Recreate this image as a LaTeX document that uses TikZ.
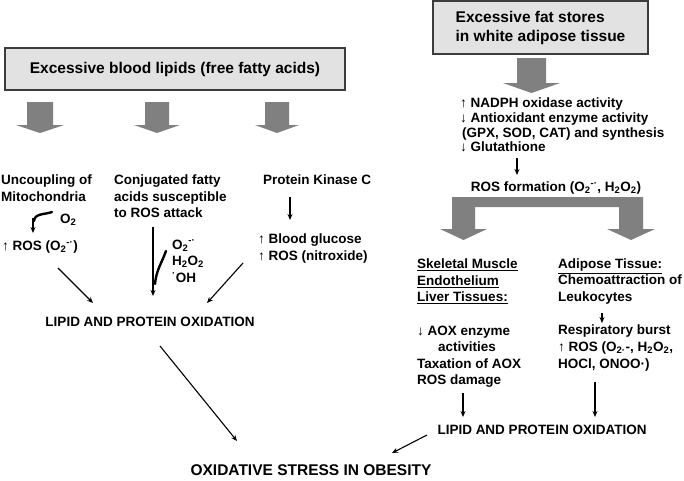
\documentclass[tikz,border=0pt]{standalone}
\usepackage{fontspec}
\setmainfont{Liberation Sans}
\usetikzlibrary{arrows.meta}

\definecolor{boxgray}{RGB}{226,226,226}
\definecolor{edgegray}{RGB}{60,60,60}
\definecolor{arrgray}{RGB}{128,128,128}
\newcommand{\uparr}{{\mdseries ↑}}
\newcommand{\dnarr}{{\mdseries ↓}}

\begin{document}
\begin{tikzpicture}[
  x=1pt, y=-1pt,
  every node/.style={font=\bfseries\fontsize{13.5}{16.5}\selectfont, inner sep=0pt},
  big/.style={font=\bfseries\fontsize{15.5}{19}\selectfont},
  src/.style={big, draw=edgegray, line width=1.3pt, fill=boxgray},
  txt/.style={anchor=west, align=left},
  arr/.style={line width=1.1pt, -{Stealth[length=6pt,width=5pt]}},
  feather/.style={line width=2.4pt, line cap=round},
  blockarr/.style={fill=arrgray},
]
\fill[white] (0,0) rectangle (684,480);
\useasboundingbox (0,0) rectangle (684,480);
% source boxes
\node[src, minimum width=340pt, minimum height=42pt] (blood) at (175,69) {Excessive blood lipids (free fatty acids)};
\node[src, minimum width=215pt, minimum height=53pt, align=left] (fat) at (540.5,27.5) {Excessive fat stores\\in white adipose tissue};
% block arrows
\foreach \x/\s/\h in {40/13/24, 157/12/23, 277/12/22} {
  \fill[blockarr] (\x-\s,102) -- (\x+\s,102) -- (\x+\s,125) -- (\x+\h,125) -- (\x,133)
    -- (\x-\h,125) -- (\x-\s,125) -- cycle;
}
\fill[blockarr] (517,58) -- (546,58) -- (546,83) -- (560,83) -- (531.5,93) -- (503,83) -- (517,83) -- cycle;
\fill[blockarr] (440,229) -- (463.5,240) -- (487,229) -- (475,229) -- (475,207) -- (619,207)
  -- (619,229) -- (607,229) -- (631,240) -- (655,229) -- (643,229) -- (643,197) -- (452,197)
  -- (452,229) -- cycle;
% left branch: blood lipids
\node[txt] (mito) at (1,188) {Uncoupling of\\Mitochondria};
\node[txt] (o2m) at (60,220) {O\textsubscript{2}};
\node[txt] (rosm) at (2,247) {\uparr\ ROS (O\textsubscript{2}\textsuperscript{-·})};
\node[txt] (conj) at (114,196.5) {Conjugated fatty\\acids susceptible\\to ROS attack};
\node[txt] (rad) at (172,261) {O\textsubscript{2}\textsuperscript{-·}\\H\textsubscript{2}O\textsubscript{2}\\\textsuperscript{·}OH};
\node[txt] (pkc) at (263,180) {Protein Kinase C};
\node[txt] (glu) at (258,248.5) {\uparr\ Blood glucose\\\uparr\ ROS (nitroxide)};
\node (lpoL) at (150,322) {LIPID AND PROTEIN OXIDATION};
\node[big] (ox) at (311,470) {OXIDATIVE STRESS IN OBESITY};
% right branch: adipose tissue
\node[txt, font=\bfseries\fontsize{13.5}{14.7}\selectfont] (nadph) at (460,125)
  {\uparr\ NADPH oxidase activity\\\dnarr\ Antioxidant enzyme activity\\\hspace{2pt}(GPX, SOD, CAT) and synthesis\\\dnarr\ Glutathione};
\node (rosf) at (556,188) {ROS formation (O\textsubscript{2}\textsuperscript{-·}, H\textsubscript{2}O\textsubscript{2})};
\node[txt] (skel) at (417,281.5) {\underline{Skeletal Muscle}\\\underline{Endothelium}\\\underline{Liver Tissues:}};
\node[txt] (aox) at (417,356.5) {\dnarr\ AOX enzyme\\\hspace{21pt}activities\\Taxation of AOX\\ROS damage};
\node[txt] (adip) at (558,281.5) {\underline{Adipose Tissue:}\\Chemoattraction of\\Leukocytes};
\node[txt] (burst) at (558,348) {Respiratory burst\\\uparr\ ROS (O\textsubscript{2·}-, H\textsubscript{2}O\textsubscript{2},\\HOCl, ONOO·)};
\node (lpoR) at (542,430) {LIPID AND PROTEIN OXIDATION};
% connectors
\draw[arr] ([shift={(32,30)}]mito.west) -- ([shift={(31,-14)}]rosm.west);
\draw[feather] ([shift={(-8,-8)}]o2m.west) to[out=200,in=85] ([shift={(32,-26)}]rosm.west);
\draw[arr] ([shift={(56,21)}]rosm.west) -- ([shift={(-57,-19)}]lpoL.center);
\draw[arr] ([shift={(39,30.5)}]conj.west) -- ([shift={(3,-26)}]lpoL.center);
\draw[feather] ([shift={(-6,-10)}]rad.west) to[out=250,in=85] ([shift={(5,-38)}]lpoL.center);
\draw[arr] ([shift={(27,17)}]pkc.west) -- ([shift={(32,-28.5)}]glu.west);
\draw[arr] ([shift={(-15,14.5)}]glu.west) -- ([shift={(57,-19)}]lpoL.center);
\draw[arr] ([shift={(10,24)}]lpoL.center) -- ([shift={(-74,-29)}]ox.center);
\draw[arr] ([shift={(57,33)}]nadph.west) -- ([shift={(-39,-13)}]rosf.center);
\draw[arr] ([shift={(44,31.5)}]adip.west) -- ([shift={(44,-25)}]burst.west);
\draw[arr] ([shift={(46,36.5)}]aox.west) -- ([shift={(-79,-13)}]lpoR.center);
\draw[arr] ([shift={(37,34)}]burst.west) -- ([shift={(53,-13)}]lpoR.center);
\draw[arr] ([shift={(-115,5)}]lpoR.center) -- ([shift={(81,-17)}]ox.center);
\end{tikzpicture}
\end{document}
